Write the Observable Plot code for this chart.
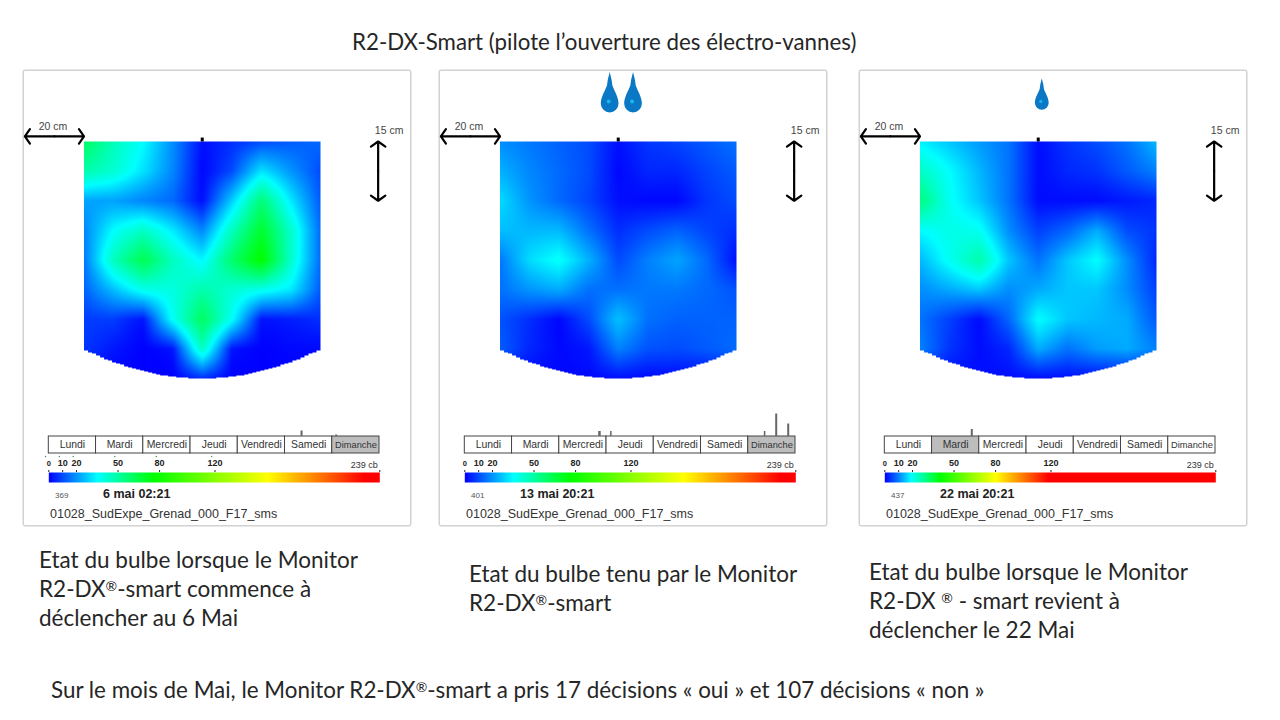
<!DOCTYPE html>
<html lang="fr"><head><meta charset="utf-8">
<script src="https://cdn.jsdelivr.net/npm/d3@7"></script>
<script src="https://cdn.jsdelivr.net/npm/@observablehq/plot@0.6"></script>
<style>
html,body{margin:0;padding:0;background:#fff;width:1280px;height:720px;overflow:hidden}
body{position:relative;font-family:Lato,"Noto Sans",sans-serif;color:#262626}
.abs{position:absolute;white-space:nowrap}
.abs span{font-size:.62em;vertical-align:.45em;line-height:0}
.panel{position:absolute;top:71px;width:386px;height:454px;box-shadow:0 0 0 1.5px #d2d2d2;border-radius:1px;background:#fff}
.panel svg{position:absolute;left:0;overflow:visible;background:transparent}
.cap{font-size:22.5px;line-height:29px}
.info{font-family:"Liberation Sans",Arial,sans-serif}
</style></head><body>
<script>
const titleText = "R2-DX-Smart (pilote l’ouverture des électro-vannes)";
const footText = "Sur le mois de Mai, le Monitor R2-DX®-smart a pris 17 décisions « oui » et 107 décisions « non »";
const dayNames = ["Lundi","Mardi","Mercredi","Jeudi","Vendredi","Samedi","Dimanche"];
const scaleTicks = [0,10,20,50,80,120,239];
const depthCm = [0,7.5,15,22.5,30,37.5,45,52.5,60];
const widthCm = [-40,-30,-20,-10,0,10,20,30,40];
const colorRange = ["#0000ff","#0080ff","#00ffff","#00ff80","#00ff00","#ffff00","#ff0000","#ff0000"];
const stops1 = [0,17,35,55,76,158,228,239];
const stops3 = [0,10,19,30,40,80,118,239];

const grid6 = [
 [60,46,35,19,2,6,10,12,14],
 [48,42,31,18,1,10,31,20,10],
 [22,22,18,14,2,28,56,32,12],
 [18,35,44,32,18,45,68,43,14],
 [16,45,62,45,34,58,76,43,14],
 [13,26,38,40,48,42,38,32,12],
 [8,8,3,36,60,36,3,4,6],
 [7,3,0,3,44,3,0,1,1],
 [0,0,0,0,6,0,0,0,0]];
const grid13 = [
 [19,16,13,10,2,7,9,12,15],
 [24,18,14,10,1,5,5,9,12],
 [30,20,14,9,2,1,1,7,10],
 [26,25,25,15,6,10,13,9,6],
 [16,30,36,24,10,17,22,14,2],
 [15,20,23,15,15,16,16,14,11],
 [11,6,1,10,26,15,13,13,13],
 [12,5,1,3,17,11,10,12,14],
 [1,1,1,1,2,1,1,1,1]];
const grid22 = [
 [18,15,12,9,1,4,6,9,14],
 [24,19,14,9,1,3,4,7,10],
 [30,20,15,9,1,1,1,2,3],
 [19,21,20,11,5,8,13,6,4],
 [14,20,26,15,9,15,19,11,3],
 [11,13,15,11,13,15,15,11,5],
 [9,5,1,8,19,15,14,13,7],
 [10,4,1,3,13,9,12,13,10],
 [1,1,1,1,1,1,1,1,1]];

const lefts = [24,440,860];
const grids = [grid6,grid13,grid22];
const stopsList = [stops1,stops1,stops3];
const dates = ["6 mai 02:21","13 mai 20:21","22 mai 20:21"];
const counts = ["369","401","437"];
const highlight = ["Dimanche","Dimanche","Mardi"];
const tickHours = [[128.4,146],[68.4,74.2,152.3,158.2,164.3],[44.2]];
const tickHeights = [[5.5,1.5],[5,5,5,22.5,12.5],[7]];
const tickWidths = [[2,2],[2.5,1.5,1.5,2,2],[2]];
const dropX = [[],[-2.9,5],[1.2]];
const dropSize = [[],[1,1],[0.78]];
const seriesName = "01028_SudExpe_Grenad_000_F17_sms";
const captions = [
 ["Etat du bulbe lorsque le Monitor","R2-DX®-smart commence à","déclencher au 6 Mai"],
 ["Etat du bulbe tenu par le Monitor","R2-DX®-smart"],
 ["Etat du bulbe lorsque le Monitor","R2-DX ® - smart revient à","déclencher le 22 Mai"]];
const captionX = [39,469,869];
const captionY = [545,559,557];

function add(parent, tag, cls, css, txt){
  const e=document.createElement(tag);e.className=cls;e.style.cssText=css;
  if(txt!=null){txt.split("®").forEach((part,i)=>{
    if(i>0){const s=document.createElement("span");s.textContent="®";e.appendChild(s);}
    e.appendChild(document.createTextNode(part));});}
  parent.appendChild(e);return e;}

const cr=(a,b,c,d,t)=>b+0.5*t*(c-a+t*(2*a-5*b+4*c-d+t*(3*(b-c)+d-a)));
const at=(g,i,j)=>g[Math.max(0,Math.min(8,i))][Math.max(0,Math.min(8,j))];
function field(grid){
  return (x,y)=>{
    const qx = Math.round(x/1.36)*1.36;
    const edge = 52.6 + 7.4*(1-(qx/40)*(qx/40));
    if (y>edge) return NaN;
    const i = Math.min(7,Math.floor(y/7.5)), j = Math.min(7,Math.floor((x+40)/10));
    const u=(y-depthCm[i])/7.5, v=(x-widthCm[j])/10;
    const row=k=>cr(at(grid,k,j-1),at(grid,k,j),at(grid,k,j+1),at(grid,k,j+2),v);
    const bic=cr(row(i-1),row(i),row(i+1),row(i+2),u);
    const lin=(1-u)*((1-v)*grid[i][j]+v*grid[i][j+1])+u*((1-v)*grid[i+1][j]+v*grid[i+1][j+1]);
    return Math.max(0,0.85*lin+0.15*bic);
  };
}
const dropSymbol = {draw(c,size){const r=Math.sqrt(size);
  c.moveTo(0,-r*3.2);
  c.lineTo(r*.22,-r*2.3);c.lineTo(r*.3,-r*1.7);
  c.bezierCurveTo(r*.45,-r*1.2,r,-r*.4,r,r*.35);
  c.arc(0,r*.35,r,0,Math.PI);
  c.bezierCurveTo(-r,-r*.4,-r*.45,-r*1.2,-r*.3,-r*1.7);
  c.lineTo(-r*.22,-r*2.3);c.closePath();}};

add(document.body,"div","abs","left:352px;top:29px;font-size:22.3px;line-height:26px",titleText);
add(document.body,"div","abs","left:51px;top:677px;font-size:22.4px;line-height:26px",footText);

lefts.forEach((left,p)=>{
  const panel = add(document.body,"div","panel",`left:${left}px`);
  const color = {type:"linear",domain:stopsList[p],range:colorRange,interpolate:"rgb"};
  const drops = dropX[p].map((x,i)=>({x,s:dropSize[p][i]}));
  const arrows=[{x1:-50,x2:-60,y1:-1.3,y2:-1.3},{x1:-50,x2:-40,y1:-1.3,y2:-1.3},{x1:59.5,x2:59.5,y1:7.5,y2:0},{x1:59.5,x2:59.5,y1:7.5,y2:15}];
  const map = Plot.plot({width:386,height:312,margin:0,
    x:{domain:[-40,40],range:[59.5,296],axis:null},
    y:{domain:[0,60],range:[70,307],axis:null},
    r:{type:"identity"},
    color,
    style:{background:"transparent"},
    marks:[
      Plot.raster({x1:-40,x2:40,y1:0,y2:60,width:236,height:237,fill:field(grids[p])}),
      Plot.link([{x:0}],{x1:"x",x2:"x",y1:-1,y2:0,stroke:"#000",strokeWidth:3}),
      Plot.arrow(arrows,{x1:"x1",x2:"x2",y1:"y1",y2:"y2",stroke:"#000",strokeWidth:2.2,headLength:6,headAngle:110,bend:0}),
      Plot.text(["20 cm"],{x:-50.5,y:-3.8,text:d=>d,fontSize:10.5,fontFamily:"Liberation Sans",fill:"#444"}),
      Plot.text(["15 cm"],{x:63.2,y:-2.8,text:d=>d,fontSize:10.5,fontFamily:"Liberation Sans",fill:"#444"}),
      Plot.dot(drops,{x:"x",y:-10.4,r:d=>d.s*5,symbol:dropSymbol,fill:"#0a78c4"}),
      Plot.dot(drops,{x:"x",y:-10.4,r:d=>d.s*2,dx:-1,dy:1,fill:"#18b6ee"})
    ]});
  map.style.top="0px"; panel.appendChild(map);

  const days = dayNames.map((d,i)=>({d,a:i*24,b:(i+1)*24}));
  const ticks = tickHours[p].map((h,i)=>({h,v:tickHeights[p][i],w:tickWidths[p][i]}));
  const strip = Plot.plot({width:386,height:44,margin:0,
    x:{domain:[0,168],range:[24.3,355],axis:null},
    y:{domain:[-17,25],range:[42,0],axis:null},
    style:{background:"transparent"},
    marks:[
      Plot.rect(days,{x1:"a",x2:"b",y1:-17,y2:0,fill:d=>d.d===highlight[p]?"#bdbdbd":"#fff",stroke:"#444",strokeWidth:1}),
      Plot.text(days,{x:d=>(d.a+d.b)/2,y:-8.5,text:"d",fontFamily:"Liberation Sans",fontSize:d=>d.d==="Dimanche"?9.3:10.4,fill:"#333"}),
      Plot.ruleX(ticks,{x:"h",y1:0,y2:"v",stroke:"#666",strokeWidth:"w"})
    ]});
  strip.style.top="340px"; panel.appendChild(strip);

  const bar = Plot.plot({width:386,height:30,margin:0,
    x:{domain:[0,239],range:[24.3,355.3],axis:null},
    y:{domain:[0,1],range:[27,17],axis:null},
    color,
    style:{background:"transparent"},
    marks:[
      Plot.raster({x1:0,x2:239,y1:0,y2:1,width:331,height:1,fill:(x)=>x}),
      Plot.ruleX(scaleTicks,{y1:1,y2:1.2,stroke:"#222"}),
      Plot.text(scaleTicks,{filter:v=>v<239,x:d=>d,y:1.9,text:d=>String(d),fontFamily:"Liberation Sans",fontWeight:"bold",fontSize:d=>d===0?7.5:9,fill:"#222"}),
      Plot.text([239],{x:d=>d,y:1.75,dx:-2,text:d=>d+" cb",textAnchor:"end",fontFamily:"Liberation Sans",fontSize:9,fill:"#333"}),
      p===0?Plot.dot(scaleTicks.slice(0,6),{x:d=>d,y:2.6,dx:-3.3,r:0.7,fill:"#3f8f4a"}):null
    ]});
  bar.style.top="384px"; panel.appendChild(bar);

  add(panel,"div","abs info",`left:31px;top:419px;font-size:8px;color:#555;line-height:12px`,counts[p]);
  add(panel,"div","abs info",`left:${p===0?79:80}px;top:416px;font-size:12.5px;font-weight:bold;color:#222;line-height:14px`,dates[p]);
  add(panel,"div","abs info",`left:26px;top:436px;font-size:12.5px;color:#333;line-height:14px`,seriesName);

  captions[p].forEach((line,i)=>add(document.body,"div","abs cap",`left:${captionX[p]}px;top:${captionY[p]+i*29}px`,line));
});
</script>
</body></html>
